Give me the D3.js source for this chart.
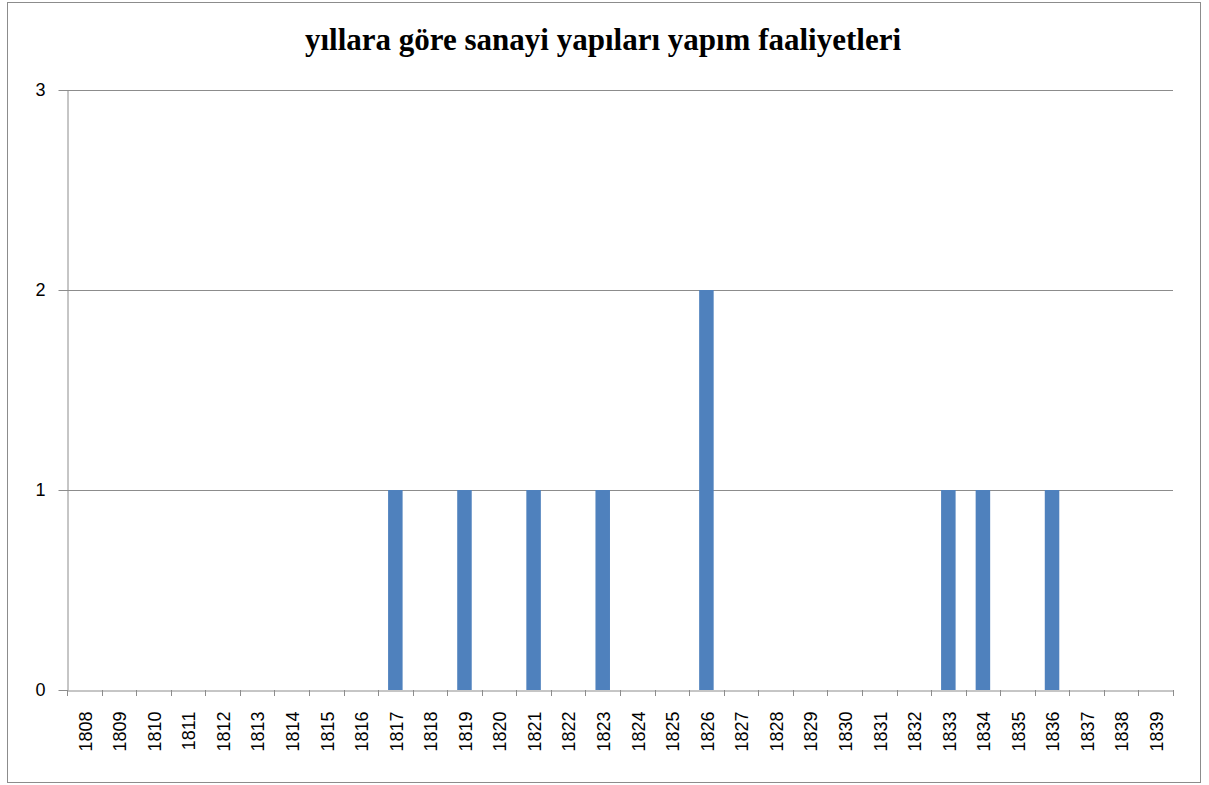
<!DOCTYPE html>
<html><head><meta charset="utf-8">
<script src="https://cdn.jsdelivr.net/npm/d3@7"></script>
<style>body{margin:0;background:#fff}svg{display:block}</style>
</head><body>
<script>
const title = "yıllara göre sanayi yapıları yapım faaliyetleri";
const years = d3.range(1808, 1840).map(String);
const values = [0,0,0,0,0,0,0,0,0,1,0,1,0,1,0,1,0,0,2,0,0,0,0,0,0,1,1,0,1,0,0,0];
const yTicks = [0,1,2,3];

const W = 1209, H = 785;
const svg = d3.select("body").append("svg").attr("width", W).attr("height", H);
svg.append("rect").attr("x", 7.5).attr("y", 2.5).attr("width", 1193).attr("height", 780)
  .attr("fill", "#fff").attr("stroke", "#8c8c8c").attr("stroke-width", 1);

const x = d3.scaleBand().domain(years).range([67, 1173]).paddingInner(0).paddingOuter(0);
const y = d3.scaleLinear().domain([0, 3]).range([690, 90]);

// gridlines
svg.append("g").selectAll("line").data(yTicks.filter(d => d > 0)).join("line")
  .attr("x1", 67).attr("x2", 1173).attr("y1", d => Math.round(y(d)) + 0.5).attr("y2", d => Math.round(y(d)) + 0.5)
  .attr("stroke", "#8c8c8c");

// bars
const bw = x.bandwidth() * 0.42;
svg.append("g").selectAll("rect").data(years.map((yr, i) => ({yr, v: values[i]})).filter(d => d.v > 0)).join("rect")
  .attr("x", d => x(d.yr) + x.bandwidth() / 2 - bw / 2)
  .attr("y", d => y(d.v))
  .attr("width", bw)
  .attr("height", d => y(0) - y(d.v))
  .attr("fill", "#4f81bd");

// y axis
const yAxis = svg.append("g").attr("transform", "translate(67.5,0)")
  .call(d3.axisLeft(y).tickValues(yTicks).tickSize(9).tickSizeOuter(0).tickFormat(d3.format("d")));
yAxis.select(".domain").attr("stroke", "#8c8c8c");
yAxis.selectAll(".tick line").attr("stroke", "#8c8c8c");
yAxis.selectAll(".tick text").attr("font-family", "Liberation Sans, Arial, sans-serif").attr("font-size", 18)
  .attr("fill", "#000").attr("x", -22);

// x axis
const xAxis = svg.append("g").attr("transform", "translate(0,690.5)")
  .call(d3.axisBottom(x).tickSize(0).tickSizeOuter(0));
xAxis.select(".domain").attr("stroke", "#8c8c8c");
xAxis.selectAll(".tick text").attr("font-family", "Liberation Sans, Arial, sans-serif").attr("font-size", 18)
  .attr("fill", "#000")
  .attr("transform", "rotate(-90)").attr("text-anchor", "end").attr("x", -21).attr("y", 1).attr("dy", "0.35em");
// category boundary ticks
svg.append("g").selectAll("line").data(years.concat(["end"])).join("line")
  .attr("x1", (d, i) => Math.round(67 + i * x.step()) + 0.5)
  .attr("x2", (d, i) => Math.round(67 + i * x.step()) + 0.5)
  .attr("y1", 690).attr("y2", 696).attr("stroke", "#8c8c8c");

svg.append("text").attr("x", 603).attr("y", 50).attr("text-anchor", "middle")
  .attr("font-family", "Liberation Serif, Times New Roman, serif").attr("font-weight", "bold")
  .attr("font-size", 31).attr("fill", "#000").text(title);
</script>
</body></html>
